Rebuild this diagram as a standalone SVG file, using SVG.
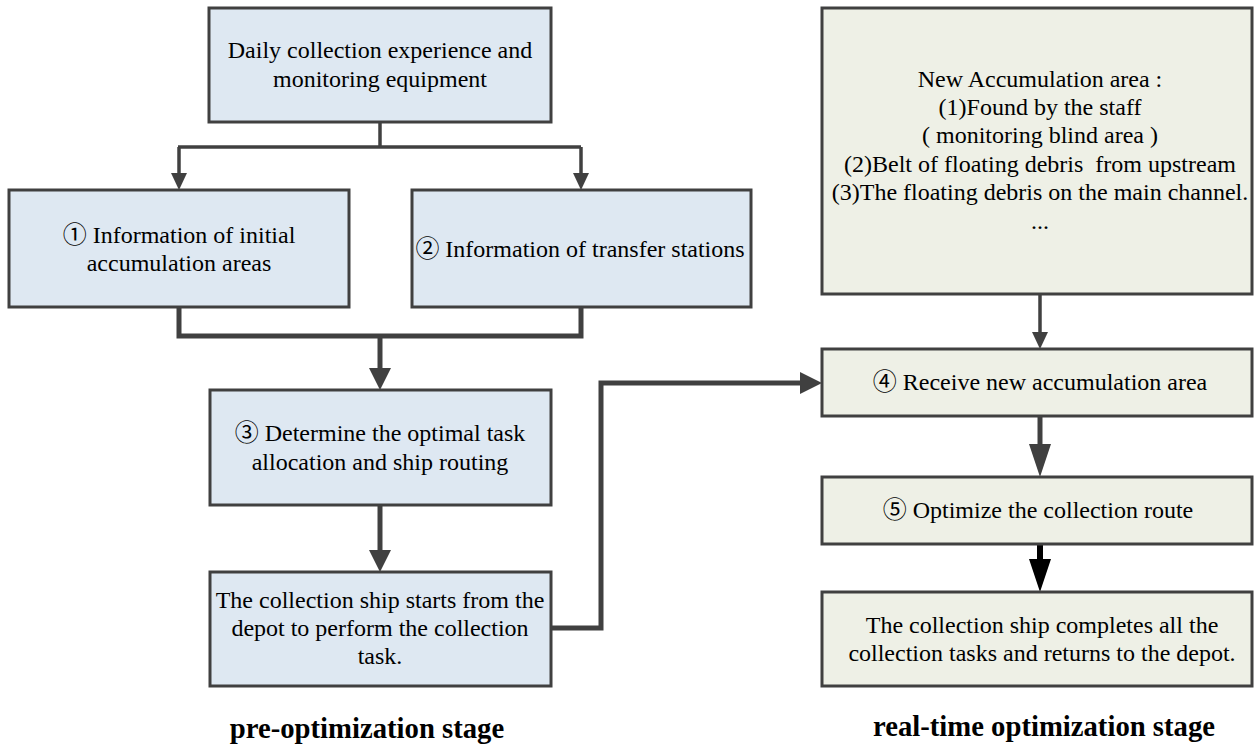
<svg xmlns="http://www.w3.org/2000/svg" width="1255" height="750" viewBox="0 0 1255 750">
  <style>
    .pre { fill: #dee8f2; stroke: #404040; stroke-width: 3; }
    .rt { fill: #eef0e6; stroke: #404040; stroke-width: 3; }
    text { font-family: "Liberation Serif", "Noto Sans CJK SC", serif; font-size: 24px; fill: #000; text-anchor: middle; }
    .label { font-weight: bold; font-size: 28.7px; }
    .thin { fill: none; stroke: #404040; stroke-width: 3.5; }
    .thick { fill: none; stroke: #404040; stroke-width: 5; }
    .black { fill: none; stroke: #000; stroke-width: 6; }
  </style>
  <defs>
    <marker id="arrThin" markerUnits="userSpaceOnUse" markerWidth="17" markerHeight="16" refX="8" refY="8" orient="auto">
      <path d="M0,0 L17,8 L0,16 Z" fill="#404040"/>
    </marker>
    <marker id="arrThick" markerUnits="userSpaceOnUse" markerWidth="22" markerHeight="22" refX="10" refY="11" orient="auto">
      <path d="M0,0 L22,11 L0,22 Z" fill="#404040"/>
    </marker>
    <marker id="arrTall" markerUnits="userSpaceOnUse" markerWidth="33" markerHeight="22" refX="15" refY="11" orient="auto">
      <path d="M0,0 L33,11 L0,22 Z" fill="#404040"/>
    </marker>
    <marker id="arrTallBlack" markerUnits="userSpaceOnUse" markerWidth="33" markerHeight="22" refX="15" refY="11" orient="auto">
      <path d="M0,0 L33,11 L0,22 Z" fill="#000"/>
    </marker>
  </defs>

  <g id="connectors">
    <path class="thin" d="M380,122 V147"/>
    <path class="thin" d="M178,147 H581"/>
    <path class="thin" d="M179,147 V181" marker-end="url(#arrThin)"/>
    <path class="thin" d="M581,147 V181" marker-end="url(#arrThin)"/>
    <path class="thick" d="M179,307 V336 H581 V307"/>
    <path class="thick" d="M380,336 V378" marker-end="url(#arrThick)"/>
    <path class="thick" d="M380,505 V560" marker-end="url(#arrThick)"/>
    <path class="thick" d="M551,628 H601 V383 H810" marker-end="url(#arrThick)"/>
    <path class="thin" d="M1040,294 V340" marker-end="url(#arrThin)"/>
    <path class="thick" d="M1040,416 V459" marker-end="url(#arrTall)"/>
    <path class="black" d="M1040,544 V574" marker-end="url(#arrTallBlack)"/>
  </g>

  <g id="node-daily">
    <rect class="pre" x="209" y="8" width="342" height="114"/>
    <text x="380" y="58">Daily collection experience and</text>
    <text x="380" y="87">monitoring equipment</text>
  </g>
  <g id="node-1">
    <rect class="pre" x="9" y="190" width="340" height="117"/>
    <text x="179" y="243">① Information of initial</text>
    <text x="179" y="271">accumulation areas</text>
  </g>
  <g id="node-2">
    <rect class="pre" x="412" y="190" width="339" height="117"/>
    <text x="580" y="257">② Information of transfer stations</text>
  </g>
  <g id="node-3">
    <rect class="pre" x="210" y="390" width="341" height="115"/>
    <text x="380" y="441">③ Determine the optimal task</text>
    <text x="380" y="470">allocation and ship routing</text>
  </g>
  <g id="node-start">
    <rect class="pre" x="210" y="572" width="341" height="114"/>
    <text x="380" y="608">The collection ship starts from the</text>
    <text x="380" y="636">depot to perform the collection</text>
    <text x="380" y="664">task.</text>
  </g>
  <g id="node-new">
    <rect class="rt" x="822" y="8" width="430" height="286"/>
    <text x="1040" y="87">New Accumulation area :</text>
    <text x="1040" y="115">(1)Found by the staff</text>
    <text x="1040" y="143">( monitoring blind area )</text>
    <text x="1040" y="172" xml:space="preserve">(2)Belt of floating debris  from upstream</text>
    <text x="1040" y="200">(3)The floating debris on the main channel.</text>
    <text x="1040" y="229">...</text>
  </g>
  <g id="node-4">
    <rect class="rt" x="822" y="349" width="430" height="67"/>
    <text x="1040" y="390">④ Receive new accumulation area</text>
  </g>
  <g id="node-5">
    <rect class="rt" x="822" y="477" width="430" height="67"/>
    <text x="1038" y="518">⑤ Optimize the collection route</text>
  </g>
  <g id="node-end">
    <rect class="rt" x="822" y="592" width="430" height="94"/>
    <text x="1042" y="633">The collection ship completes all the</text>
    <text x="1042" y="661">collection tasks and returns to the depot.</text>
  </g>

  <text class="label" x="367" y="738">pre-optimization stage</text>
  <text class="label" x="1044" y="736">real-time optimization stage</text>
</svg>
